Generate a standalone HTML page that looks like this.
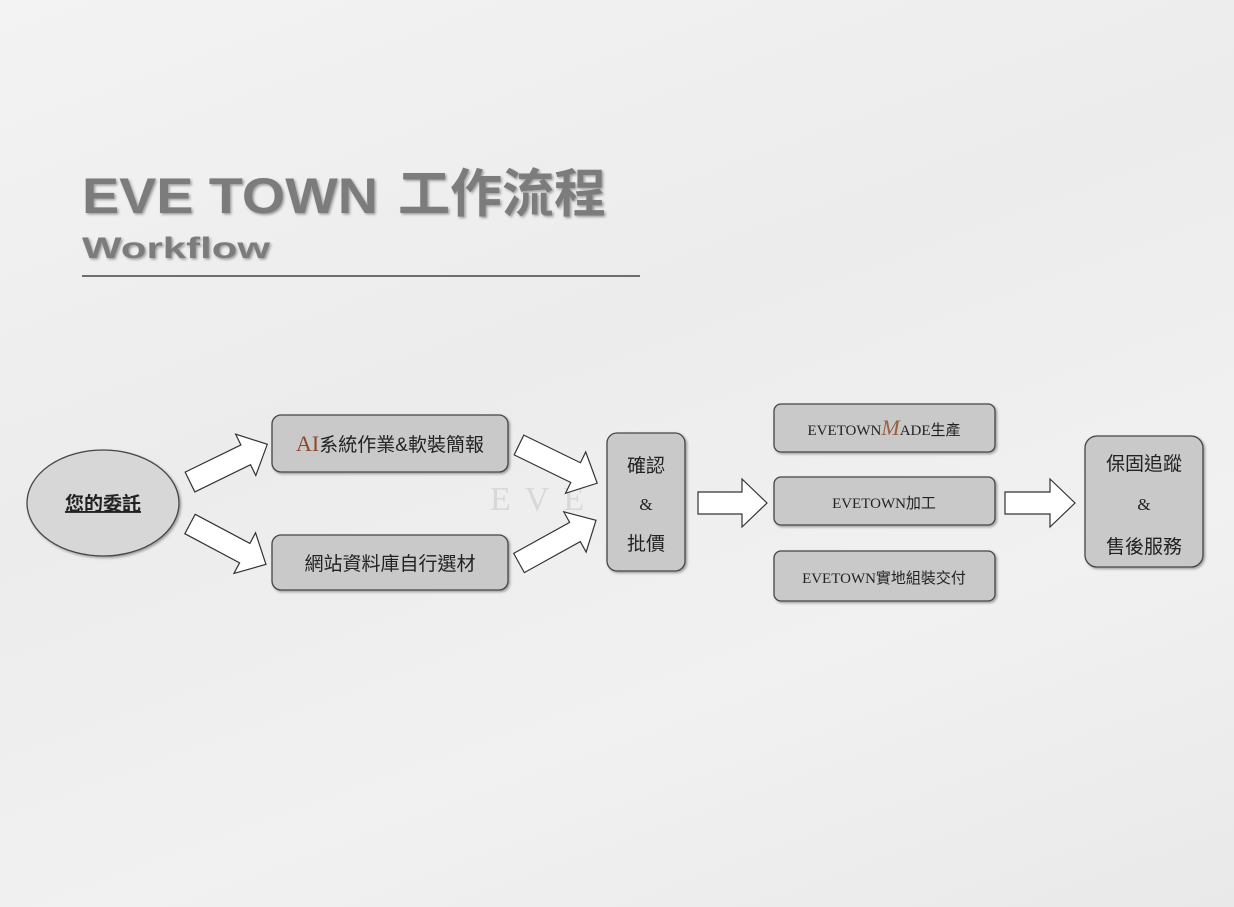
<!DOCTYPE html>
<html><head><meta charset="utf-8"><style>
html,body{margin:0;padding:0;}
body{width:1234px;height:907px;overflow:hidden;background:linear-gradient(160deg,#f3f3f3 0%,#ececec 40%,#f1f1f1 70%,#e9e9e9 100%);font-family:"Liberation Sans","Noto Sans CJK TC",sans-serif;position:relative;}
svg{position:absolute;left:0;top:0;}
</style></head><body>
<svg width="1234" height="907" viewBox="0 0 1234 907" xmlns="http://www.w3.org/2000/svg">
<defs>
<filter id="sh" x="-10%" y="-10%" width="130%" height="130%"><feDropShadow dx="1.5" dy="1.5" stdDeviation="1.2" flood-color="#000" flood-opacity="0.35"/></filter>
</defs>
<text x="82" y="213" font-family="Liberation Sans,sans-serif" font-weight="bold" font-size="50" fill="#7b7b7b" textLength="296" lengthAdjust="spacingAndGlyphs" filter="url(#sh)">EVE TOWN</text>
<text x="398" y="212" font-family="Noto Sans CJK TC,sans-serif" font-weight="bold" font-size="52" fill="#7b7b7b" filter="url(#sh)">工作流程</text>
<text x="82" y="258" font-family="Liberation Sans,sans-serif" font-weight="bold" font-size="30" fill="#7b7b7b" textLength="188" lengthAdjust="spacingAndGlyphs" filter="url(#sh)">Workflow</text>
<line x1="82" y1="276" x2="640" y2="276" stroke="#444" stroke-width="1.5"/>
<text x="490" y="510" font-family="Liberation Serif,serif" font-size="34" fill="#d8d8d8" letter-spacing="14">EVE T</text>

<g stroke="#444" stroke-width="1.3" fill="#c9c9c9" filter="url(#sh)">
<ellipse cx="103" cy="503" rx="76" ry="53" fill="#d7d7d7"/>
<rect x="272" y="415" width="236" height="57" rx="9"/>
<rect x="272" y="535" width="236" height="55" rx="9"/>
<rect x="607" y="433" width="78" height="138" rx="10"/>
<rect x="774" y="404" width="221" height="48" rx="7"/>
<rect x="774" y="477" width="221" height="48" rx="7"/>
<rect x="774" y="551" width="221" height="50" rx="7"/>
<rect x="1085" y="436" width="118" height="131" rx="12"/>
</g>
<g stroke="#333" stroke-width="1.2" fill="#fff">
<polygon transform="translate(190,482) rotate(-26)" points="0,-11 62,-11 62,-23 86,0 62,23 62,11 0,11"/>
<polygon transform="translate(190,524) rotate(28)" points="0,-11 62,-11 62,-23 86,0 62,23 62,11 0,11"/>
<polygon transform="translate(519,445) rotate(26)" points="0,-11 63,-11 63,-23 87,0 63,23 63,11 0,11"/>
<polygon transform="translate(519,563) rotate(-29)" points="0,-11 64,-11 64,-23 88,0 64,23 64,11 0,11"/>
<polygon transform="translate(698,503)" points="0,-11 44,-11 44,-24 69,0 44,24 44,11 0,11"/>
<polygon transform="translate(1005,503)" points="0,-11 45,-11 45,-24 70,0 45,24 45,11 0,11"/>
</g>
<g font-family="Liberation Sans,Noto Sans CJK TC,sans-serif" fill="#222" text-anchor="middle">
<text x="103" y="510" font-size="19" font-weight="bold" text-decoration="underline">您的委託</text>
<text x="390" y="451" font-size="19"><tspan font-family="Liberation Serif,serif" fill="#8a4a2a" font-size="22">AI</tspan>系統作業&amp;軟裝簡報</text>
<text x="390" y="570" font-size="19">網站資料庫自行選材</text>
<text x="646" y="472" font-size="19">確認</text>
<text x="646" y="510" font-size="17" font-family="Liberation Serif,serif">&amp;</text>
<text x="646" y="550" font-size="19">批價</text>
<text x="884" y="435" font-size="15" font-family="Liberation Serif,Noto Sans CJK TC,serif">EVETOWN<tspan fill="#9a6040" font-style="italic" font-size="22">M</tspan>ADE生產</text>
<text x="884" y="508" font-size="15" font-family="Liberation Serif,Noto Sans CJK TC,serif">EVETOWN加工</text>
<text x="884" y="583" font-size="15" font-family="Liberation Serif,Noto Sans CJK TC,serif">EVETOWN實地組裝交付</text>
<text x="1144" y="470" font-size="19">保固追蹤</text>
<text x="1144" y="510" font-size="17" font-family="Liberation Serif,serif">&amp;</text>
<text x="1144" y="553" font-size="19">售後服務</text>
</g>
</svg>
</body></html>
